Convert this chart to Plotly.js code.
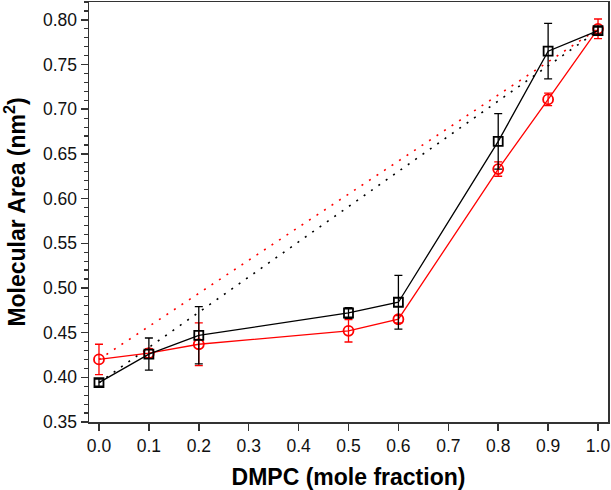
<!DOCTYPE html>
<html>
<head>
<meta charset="utf-8">
<script src="https://cdn.plot.ly/plotly-3.0.1.min.js"></script>
<style>
  body { margin: 0; background: #fff; }
  #graph { width: 611px; height: 490px; }
</style>
</head>
<body>
<div id="graph"></div>
<script>
// DMPC mole fraction
const fraction = [0.0, 0.1, 0.2, 0.5, 0.6, 0.8, 0.9, 1.0];

// black squares
const areaBlack = [0.394, 0.426, 0.447, 0.472, 0.484, 0.664, 0.765, 0.788];
const errBlack  = [0.004, 0.018, 0.032, 0.006, 0.030, 0.031, 0.031, 0.004];

// red circles
const areaRed = [0.420, 0.427, 0.437, 0.452, 0.465, 0.633, 0.711, 0.790];
const errRed  = [0.017, 0.005, 0.024, 0.0125, 0.004, 0.008, 0.007, 0.011];

const xTicks = [0.0, 0.1, 0.2, 0.3, 0.4, 0.5, 0.6, 0.7, 0.8, 0.9, 1.0];
const yTicks = [0.35, 0.40, 0.45, 0.50, 0.55, 0.60, 0.65, 0.70, 0.75, 0.80];

// ideal mixing lines: first point to last point
const last = fraction.length - 1;

let idealRed = {
    x: [fraction[0], fraction[last]],
    y: [areaRed[0], areaRed[last]],
    mode: "lines",
    type: "scatter",
    line: { color: "#ff0000", width: 1.6, dash: "2px,7px" },
    hoverinfo: "skip"
};

let idealBlack = {
    x: [fraction[0], fraction[last]],
    y: [areaBlack[0], areaBlack[last]],
    mode: "lines",
    type: "scatter",
    line: { color: "#000000", width: 1.6, dash: "2px,7px" },
    hoverinfo: "skip"
};

let traceRed = {
    x: fraction,
    y: areaRed,
    mode: "lines+markers",
    type: "scatter",
    line: { color: "#ff0000", width: 1.3 },
    marker: { symbol: "circle-open", size: 10, color: "#ff0000", line: { width: 1.8 } },
    error_y: { type: "data", array: errRed, visible: true, color: "#ff0000", thickness: 1.3, width: 4 }
};

let traceBlack = {
    x: fraction,
    y: areaBlack,
    mode: "lines+markers",
    type: "scatter",
    line: { color: "#000000", width: 1.3 },
    marker: { symbol: "square-open", size: 9, color: "#000000", line: { width: 1.8 } },
    error_y: { type: "data", array: errBlack, visible: true, color: "#000000", thickness: 1.3, width: 4 }
};

let layout = {
    width: 611,
    height: 490,
    margin: { l: 89, r: 3, t: 2, b: 68 },
    showlegend: false,
    paper_bgcolor: "#ffffff",
    plot_bgcolor: "#ffffff",
    font: { family: "Liberation Sans, Arial, sans-serif", color: "#111111" },

    xaxis: {
        range: [-0.02, 1.02],
        tickvals: xTicks,
        ticktext: xTicks.map(v => v.toFixed(1)),
        ticks: "outside",
        ticklen: 7,
        tickwidth: 1.5,
        tickcolor: "#333333",
        tickfont: { size: 17.5 },
        showgrid: false,
        zeroline: false,
        showline: true,
        linecolor: "#333333",
        linewidth: 1.5,
        mirror: true,
        title: {
            text: "DMPC (mole fraction)",
            font: { size: 23, weight: "bold", color: "#000000" },
            standoff: 15
        }
    },

    yaxis: {
        range: [0.35, 0.82],
        tickvals: yTicks,
        ticktext: yTicks.map(v => v.toFixed(2)),
        ticks: "outside",
        ticklen: 7,
        tickwidth: 1.5,
        tickcolor: "#333333",
        tickfont: { size: 17.5 },
        minor: { dtick: 0.01, ticks: "outside", ticklen: 4, tickwidth: 1.2, tickcolor: "#333333" },
        showgrid: false,
        zeroline: false,
        showline: true,
        linecolor: "#333333",
        linewidth: 1.5,
        mirror: true,
        title: {
            text: "Molecular Area (nm<sup>2</sup>)",
            font: { size: 23, weight: "bold", color: "#000000" },
            standoff: 11
        }
    }
};

Plotly.newPlot("graph", [idealRed, idealBlack, traceRed, traceBlack], layout, { staticPlot: true });
</script>
</body>
</html>
